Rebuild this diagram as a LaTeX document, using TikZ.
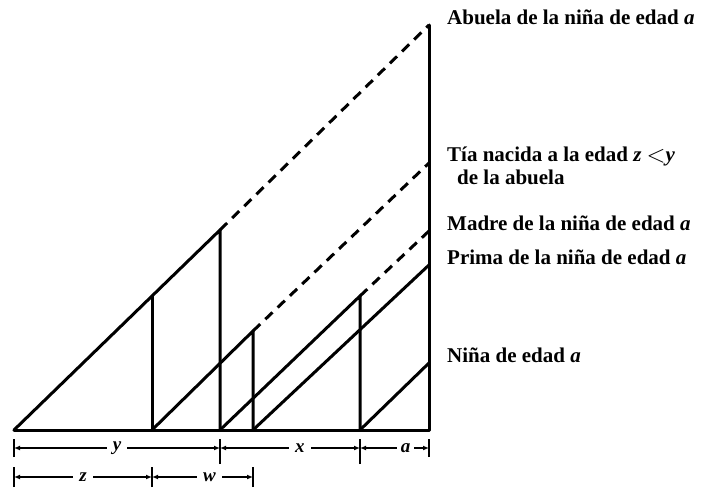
\documentclass[tikz,border=0pt]{standalone}
\usepackage{fontspec}
\setmainfont{Liberation Serif}
\usetikzlibrary{arrows.meta}
\begin{document}
\begin{tikzpicture}[x=1pt,y=-1pt,
  life/.style={line width=3pt, line cap=round, line join=round},
  future/.style={line width=3pt, dash pattern=on 10pt off 7pt},
  dim/.style={line width=1.2pt, {Latex[length=6pt,width=5pt]}-{Latex[length=6pt,width=5pt]}},
  tickmark/.style={line width=1.2pt},
  lab/.style={anchor=base west, inner sep=0pt, font=\fontsize{21}{24}\selectfont\bfseries},
  dlab/.style={fill=white, inner xsep=6pt, inner ysep=1pt, font=\fontsize{19}{21}\selectfont\bfseries\itshape}]
\useasboundingbox (0,0) rectangle (704,489);
% key points
\coordinate (G0) at (14,430);
\coordinate (Gz) at (152,296);
\coordinate (Gy) at (220,230);
\coordinate (Gnow) at (429,25);
\coordinate (A0) at (152,430);
\coordinate (Apk) at (253,331);
\coordinate (Anow) at (429,163);
\coordinate (M0) at (220,430);
\coordinate (Mpk) at (360,296);
\coordinate (Mnow) at (429,231);
\coordinate (P0) at (253,430);
\coordinate (Pnow) at (429,265);
\coordinate (N0) at (360,430);
\coordinate (Nnow) at (429,363);
\coordinate (R0) at (429,430);
% base and present line
\draw[life] (G0) -- (R0) -- (Gnow);
% grandmother
\draw[life] (G0) -- (Gy) -- (M0);
\draw[life] (Gz) -- (A0);
\draw[future] (Gy) -- (Gnow);
% aunt
\draw[life] (A0) -- (Apk) -- (P0);
\draw[future] (Apk) -- (Anow);
% mother
\draw[life] (M0) -- (Mpk) -- (N0);
\draw[future] (Mpk) -- (Mnow);
% cousin
\draw[life] (P0) -- (Pnow);
% girl
\draw[life] (N0) -- (Nnow);
% labels
\node[lab] (lg) at (447,25) {Abuela de la niña de edad \textit{a}};
\node[lab] (lt1) at (447,162) {Tía nacida a la edad \textit{z} \raisebox{-0.5pt}{\fontsize{24}{24}\selectfont$<$}\textit{y}};
\node[lab] (lt2) at (457,185) {de la abuela};
\node[lab] (lm) at (447,230) {Madre de la niña de edad \textit{a}};
\node[lab] (lp) at (447,264) {Prima de la niña de edad \textit{a}};
\node[lab] (ln) at (447,362) {Niña de edad \textit{a}};
% dimension lines
\coordinate (d1) at (14,448);
\coordinate (d2) at (220,448);
\coordinate (d3) at (360,448);
\coordinate (d4) at (429,448);
\coordinate (e1) at (14,477);
\coordinate (e2) at (152,477);
\coordinate (e3) at (253,477);
\draw[dim] (d1) -- node[dlab] (ly) {y} (d2);
\draw[dim] (d2) -- node[dlab, pos=0.57] (lx) {x} (d3);
\draw[dim] (d3) -- node[dlab, pos=0.66, inner xsep=4pt] (la) {a} (d4);
\draw[dim] (e1) -- node[dlab] (lz) {z} (e2);
\draw[dim] (e2) -- node[dlab, pos=0.57] (lw) {w} (e3);
\foreach \p in {d1,d4} \draw[tickmark] ([yshift=-9pt]\p) -- ([yshift=9pt]\p);
\foreach \p in {d2,d3} \draw[tickmark] ([yshift=-16pt]\p) -- ([yshift=9pt]\p);
\foreach \p in {e1,e2,e3} \draw[tickmark] ([yshift=-10pt]\p) -- ([yshift=10pt]\p);
\end{tikzpicture}
\end{document}
